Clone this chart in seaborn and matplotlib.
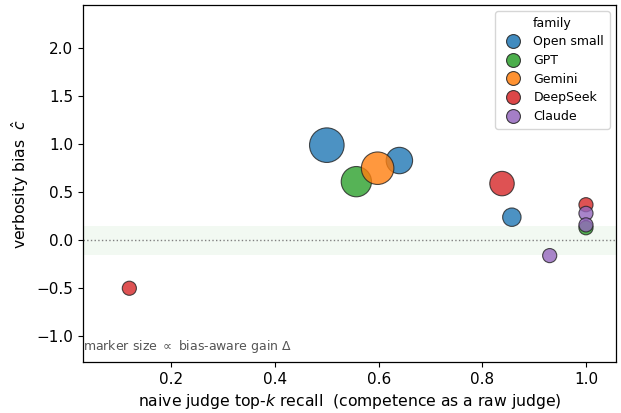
import matplotlib
matplotlib.use("Agg")
import matplotlib.pyplot as plt
from matplotlib.lines import Line2D
import numpy as np
import pandas as pd
import seaborn as sns

# data
family = ["Open small", "Open small", "Open small",
          "GPT", "GPT",
          "Gemini",
          "DeepSeek", "DeepSeek", "DeepSeek",
          "Claude", "Claude", "Claude"]
recall = [0.50, 0.64, 0.857,
          0.557, 1.0,
          0.598,
          0.838, 0.119, 1.0,
          0.930, 1.0, 1.0]
bias = [0.99, 0.83, 0.24,
        0.61, 0.13,
        0.75,
        0.59, -0.50, 0.37,
        -0.16, 0.28, 0.16]
gain = [0.30, 0.175, 0.085,
        0.23, 0.05,
        0.265,
        0.15, 0.05, 0.05,
        0.05, 0.05, 0.05]

families = ["Open small", "GPT", "Gemini", "DeepSeek", "Claude"]
colors = ["#1f77b4", "#2ca02c", "#ff7f0e", "#d62728", "#9467bd"]

df = pd.DataFrame({"family": family, "recall": recall, "bias": bias, "gain": gain})

sns.set_theme(style="ticks", rc={"text.color": "black", "axes.labelcolor": "black",
                                 "xtick.color": "black", "ytick.color": "black",
                                 "axes.edgecolor": "black"})
plt.rcParams["font.family"] = ["DejaVu Sans"]

fig, ax = plt.subplots(figsize=(6.21, 4.13), dpi=100)

ax.axhspan(-0.15, 0.15, color="#2ca02c", alpha=0.06, lw=0, zorder=0)
ax.axhline(0, color="gray", ls=":", lw=1, zorder=1)

palette = dict(zip(families, colors))
sns.scatterplot(data=df, x="recall", y="bias", hue="family", hue_order=families,
                palette=palette, size="gain", sizes=(0, 620), size_norm=(0, 0.3),
                alpha=0.8, edgecolor="#222222", linewidth=0.8, legend=False,
                ax=ax, zorder=3)

handles = [Line2D([], [], marker="o", ls="", markersize=10, markerfacecolor=c,
                  markeredgecolor="#222222", markeredgewidth=0.8, alpha=0.85)
           for c in colors]
ax.legend(handles, families, title="family", loc="upper right",
          fontsize=9, title_fontsize=9, handletextpad=0.6, borderpad=0.45,
          labelspacing=0.45)

ax.text(0.0, 0.035, r"marker size $\propto$ bias-aware gain $\Delta$",
        transform=ax.transAxes, fontsize=9, color="#555555")

ax.set_xlim(0.03, 1.058)
ax.set_ylim(-1.27, 2.45)
ax.set_xticks([0.2, 0.4, 0.6, 0.8, 1.0])
ax.set_yticks([-1.0, -0.5, 0.0, 0.5, 1.0, 1.5, 2.0])
ax.set_xlabel(r"naive judge top-$k$ recall  (competence as a raw judge)", fontsize=11.25)
ax.set_ylabel(r"verbosity bias  $\hat{c}$", fontsize=11.25)
ax.tick_params(labelsize=11, length=3.5, width=0.8)
for s in ax.spines.values():
    s.set_visible(True)
    s.set_linewidth(0.9)

fig.subplots_adjust(left=0.134, right=0.992, top=0.988, bottom=0.123)
plt.savefig("out.png", dpi=100)
